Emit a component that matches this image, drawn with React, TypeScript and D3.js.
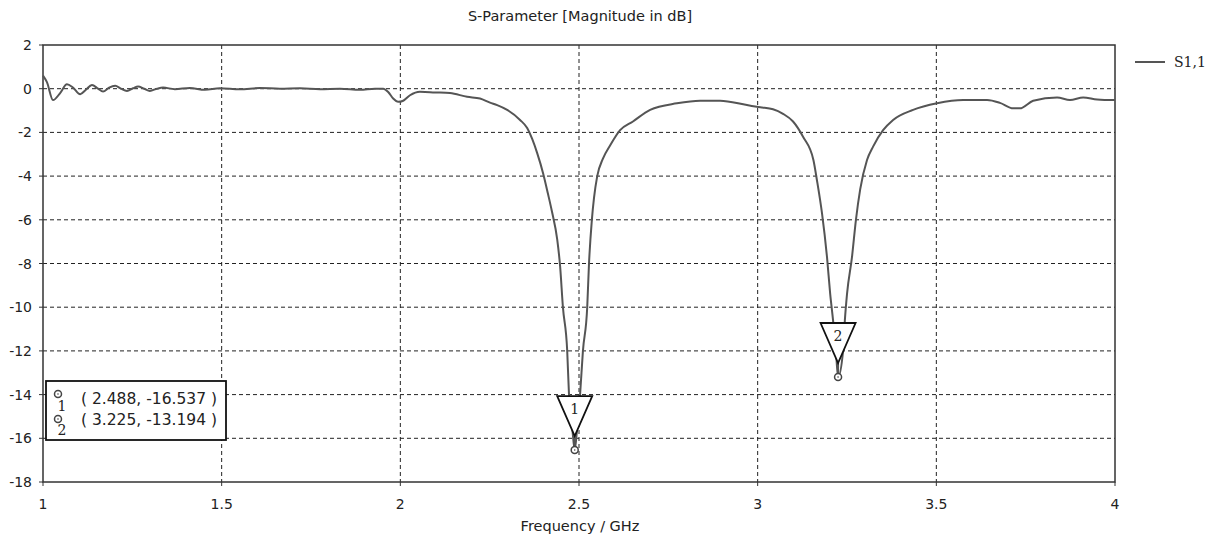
import React from "react";
import * as d3 from "d3";

const freq = [1.0,1.011,1.028,1.048,1.067,1.084,1.104,1.12,1.137,1.154,1.168,1.185,1.202,1.218,1.235,1.252,1.266,1.283,1.299,1.319,1.336,1.369,1.411,1.453,1.495,1.551,1.607,1.663,1.719,1.775,1.831,1.887,1.929,1.952,1.966,1.98,1.994,2.008,2.027,2.055,2.097,2.139,2.187,2.223,2.251,2.271,2.299,2.335,2.355,2.369,2.383,2.4,2.413,2.424,2.439,2.447,2.455,2.467,2.472,2.481,2.488,2.495,2.503,2.511,2.523,2.528,2.536,2.542,2.551,2.567,2.587,2.615,2.651,2.699,2.774,2.839,2.895,2.97,3.007,3.043,3.071,3.099,3.127,3.156,3.166,3.18,3.194,3.203,3.211,3.219,3.225,3.239,3.244,3.25,3.264,3.275,3.287,3.306,3.323,3.351,3.379,3.435,3.502,3.575,3.642,3.678,3.715,3.734,3.771,3.838,3.874,3.911,3.95,4.0];
const s11 = [0.6,0.3,-0.52,-0.2,0.2,0.05,-0.25,-0.05,0.17,0.0,-0.13,0.05,0.13,0.0,-0.1,0.02,0.1,0.0,-0.1,0.0,0.05,-0.02,0.03,-0.05,0.02,-0.03,0.03,0.0,0.02,-0.02,0.0,-0.05,0.0,0.0,-0.15,-0.45,-0.6,-0.55,-0.3,-0.14,-0.17,-0.2,-0.37,-0.45,-0.64,-0.75,-0.97,-1.43,-1.8,-2.3,-2.95,-3.9,-4.8,-5.6,-6.9,-8.1,-10,-12,-14,-15.5,-16.537,-15.5,-14,-12,-10,-8,-6,-5,-4,-3.2,-2.6,-1.9,-1.5,-0.97,-0.67,-0.55,-0.55,-0.75,-0.85,-0.94,-1.15,-1.5,-2.2,-3.26,-4.2,-5.7,-7.7,-9.4,-10.6,-12,-13.194,-12,-10.6,-9.4,-7.7,-6,-4.6,-3.26,-2.65,-1.9,-1.43,-0.97,-0.67,-0.52,-0.52,-0.65,-0.9,-0.9,-0.55,-0.4,-0.52,-0.4,-0.49,-0.52];

const xTicks = [1, 1.5, 2, 2.5, 3, 3.5, 4];
const yTicks = [2, 0, -2, -4, -6, -8, -10, -12, -14, -16, -18];
const markerIds = ["1", "2"];
const markerFreq = [2.488, 3.225];
const markerVal = [-16.537, -13.194];
const markerText = ["( 2.488, -16.537 )", "( 3.225, -13.194 )"];

const W = 1225, H = 537;
const L = 43, R = 1115, T = 45, B = 482;
const sans = "'DejaVu Sans', Verdana, sans-serif";
const serif = "'DejaVu Serif', 'Liberation Serif', serif";

export default function App() {
  const x = d3.scaleLinear().domain([1, 4]).range([L, R]);
  const y = d3.scaleLinear().domain([-18, 2]).range([B, T]);
  const pts = freq.map((f, i) => [f, s11[i]] as [number, number]);
  const line = d3.line<[number, number]>().x(d => x(d[0])).y(d => y(d[1])).curve(d3.curveMonotoneX);
  const gridColor = "#222";
  return (
    <svg width={W} height={H} style={{ position: "absolute", left: 0, top: 0, background: "#fff" }}>
      <rect x={0} y={0} width={W} height={H} fill="#fff" />
      <text x={(L + R) / 2 + 1} y={21} textAnchor="middle" fontFamily={sans} fontSize={14.5} fill="#222">S-Parameter [Magnitude in dB]</text>
      {yTicks.filter(t => t !== 2 && t !== -18).map(t => (
        <line key={"gy" + t} x1={L} x2={R} y1={y(t)} y2={y(t)} stroke={gridColor} strokeWidth={1} strokeDasharray="4,3" />
      ))}
      {xTicks.filter(t => t !== 1 && t !== 4).map(t => (
        <line key={"gx" + t} x1={x(t)} x2={x(t)} y1={T} y2={B} stroke={gridColor} strokeWidth={1} strokeDasharray="4,3" />
      ))}
      <rect x={L} y={T} width={R - L} height={B - T} fill="none" stroke="#333" strokeWidth={1.5} />
      {yTicks.map(t => (
        <g key={"ty" + t}>
          <line x1={L - 4} x2={L} y1={y(t)} y2={y(t)} stroke="#333" />
          <text x={32} y={y(t) + 5} textAnchor="end" fontFamily={sans} fontSize={14} fill="#222">{t}</text>
        </g>
      ))}
      {xTicks.map(t => (
        <g key={"tx" + t}>
          <line x1={x(t)} x2={x(t)} y1={B} y2={B + 4} stroke="#333" />
          <text x={x(t)} y={509} textAnchor="middle" fontFamily={sans} fontSize={14} fill="#222">{t}</text>
        </g>
      ))}
      <text x={(L + R) / 2 + 1} y={531} textAnchor="middle" fontFamily={sans} fontSize={14.5} fill="#222">Frequency / GHz</text>
      <path d={line(pts) || ""} fill="none" stroke="#555" strokeWidth={2} />
      {markerIds.map((id, i) => {
        const cx = x(markerFreq[i]);
        const cy = y(markerVal[i]);
        const apexY = cy - 14;
        const topY = apexY - 40;
        return (
          <g key={"m" + id}>
            <line x1={cx} x2={cx} y1={apexY} y2={cy - 4} stroke="#555" strokeWidth={2} />
            <circle cx={cx} cy={cy} r={3.5} fill="#fff" stroke="#444" strokeWidth={1.5} />
            <circle cx={cx} cy={cy} r={0.8} fill="#444" />
            <path d={`M${cx - 17.5},${topY} L${cx + 17.5},${topY} L${cx},${apexY} Z`} fill="#fff" stroke="#111" strokeWidth={1.8} />
            <text x={cx} y={topY + 18} textAnchor="middle" fontFamily={serif} fontSize={14} fill="#222">{id}</text>
          </g>
        );
      })}
      <rect x={46} y={381} width={180} height={59} fill="#fff" stroke="#111" strokeWidth={1.8} />
      {markerIds.map((id, i) => (
        <g key={"lg" + id}>
          <circle cx={58} cy={394 + i * 25} r={3.5} fill="#fff" stroke="#444" strokeWidth={1.5} />
          <circle cx={58} cy={394 + i * 25} r={0.8} fill="#444" />
          <text x={62} y={411 + i * 24} textAnchor="middle" fontFamily={serif} fontSize={14} fill="#222">{id}</text>
          <text x={81} y={404 + i * 21} fontFamily={sans} fontSize={15.5} fill="#222">{markerText[i]}</text>
        </g>
      ))}
      <line x1={1135} x2={1165} y1={62} y2={62} stroke="#555" strokeWidth={2} />
      <text x={1174} y={67} fontFamily={serif} fontSize={14} fill="#222">S1,1</text>
    </svg>
  );
}
